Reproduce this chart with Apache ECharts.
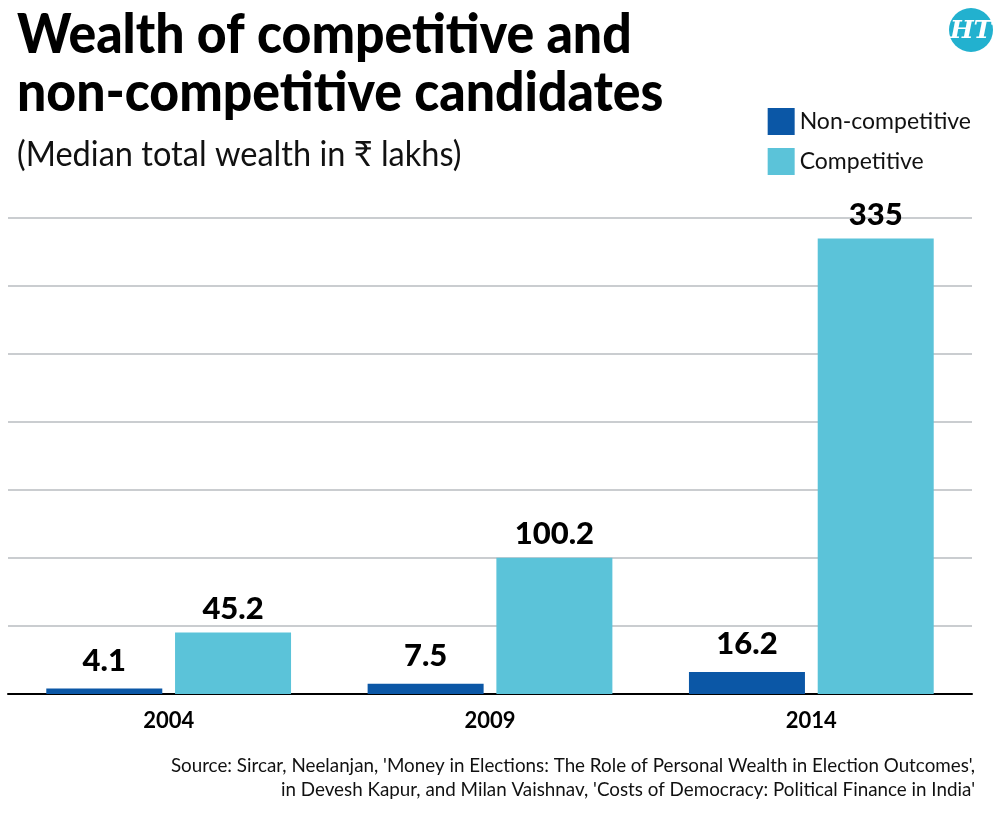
<!DOCTYPE html>
<html>
<head>
<meta charset="utf-8">
<script src="https://cdn.jsdelivr.net/npm/echarts@6/dist/echarts.min.js"></script>
<style>
  html, body { margin: 0; padding: 0; background: #fff; }
  #mainChart { width: 1000px; height: 813px; }
</style>
</head>
<body>
<div id="mainChart"></div>
<script>
// data
var years = ['2004', '2009', '2014'];
var nonCompetitive = [4.1, 7.5, 16.2];
var competitive = [45.2, 100.2, 335];
var seriesNames = ['Non-competitive', 'Competitive'];

var font = "Lato, 'Noto Sans', sans-serif";

var myChart = echarts.init(document.getElementById('mainChart'));
var option = {
	backgroundColor: '#ffffff',
	animation: false,
	legend: {
		orient: 'vertical',
		right: 24,
		top: 103,
		itemWidth: 27,
		itemHeight: 27,
		itemGap: 13,
		icon: 'rect',
		data: seriesNames,
		textStyle: {
			fontFamily: font,
			fontSize: 23,
			color: '#111'
		}
	},
	graphic: [{
		// title, squeezed a little to look condensed
		type: 'text',
		x: 17,
		y: 6,
		scaleX: 0.94,
		style: {
			text: 'Wealth of competitive and\nnon-competitive candidates',
			fill: '#000',
			font: '900 55px ' + font,
			lineHeight: 58,
			verticalAlign: 'top'
		}
	}, {
		type: 'text',
		x: 17,
		y: 137,
		scaleX: 0.93,
		style: {
			text: '(Median total wealth in \u20B9 lakhs)',
			fill: '#111',
			font: '35px ' + font,
			verticalAlign: 'top'
		}
	}, {
		type: 'circle',
		shape: { cx: 971, cy: 30, r: 22 },
		style: { fill: '#22b1cf' }
	}, {
		type: 'text',
		x: 971,
		y: 31,
		style: {
			text: 'HT',
			fill: '#fff',
			font: 'italic bold 25px "DejaVu Serif", serif',
			align: 'center',
			verticalAlign: 'middle'
		}
	}, {
		type: 'text',
		x: 975,
		y: 754,
		scaleX: 0.94,
		style: {
			text: "Source: Sircar, Neelanjan, 'Money in Elections: The Role of Personal Wealth in Election Outcomes',\nin Devesh Kapur, and Milan Vaishnav, 'Costs of Democracy: Political Finance in India'",
			fill: '#111',
			font: '20px ' + font,
			align: 'right',
			verticalAlign: 'top',
			lineHeight: 24
		}
	}],
	grid: {
		left: 8,
		right: 28,
		top: 218,
		bottom: 119
	},
	xAxis: {
		type: 'category',
		data: years,
		axisLine: { lineStyle: { color: '#000', width: 2 } },
		axisTick: { inside: true, length: 8, lineStyle: { color: '#000', width: 1.5 } },
		axisLabel: {
			margin: 16,
			fontFamily: font,
			fontWeight: 'bold',
			fontSize: 22,
			color: '#000'
		}
	},
	yAxis: {
		type: 'value',
		min: 0,
		max: 350,
		interval: 50,
		axisLine: { show: false },
		axisTick: { show: false },
		axisLabel: { show: false },
		splitLine: { lineStyle: { color: '#b8bcc0', width: 1.5 } }
	},
	series: [{
		name: seriesNames[0],
		type: 'bar',
		data: nonCompetitive,
		barWidth: 116,
		barGap: '11%',
		itemStyle: { color: '#0b57a6' },
		label: {
			show: true,
			position: 'top',
			distance: 12,
			fontFamily: font,
			fontWeight: 900,
			fontSize: 31,
			color: '#000'
		}
	}, {
		name: seriesNames[1],
		type: 'bar',
		data: competitive,
		barWidth: 116,
		barGap: '11%',
		itemStyle: { color: '#5bc3d9' },
		label: {
			show: true,
			position: 'top',
			distance: 8,
			fontFamily: font,
			fontWeight: 900,
			fontSize: 31,
			color: '#000'
		}
	}]
};
myChart.setOption(option, true);
</script>
</body>
</html>
